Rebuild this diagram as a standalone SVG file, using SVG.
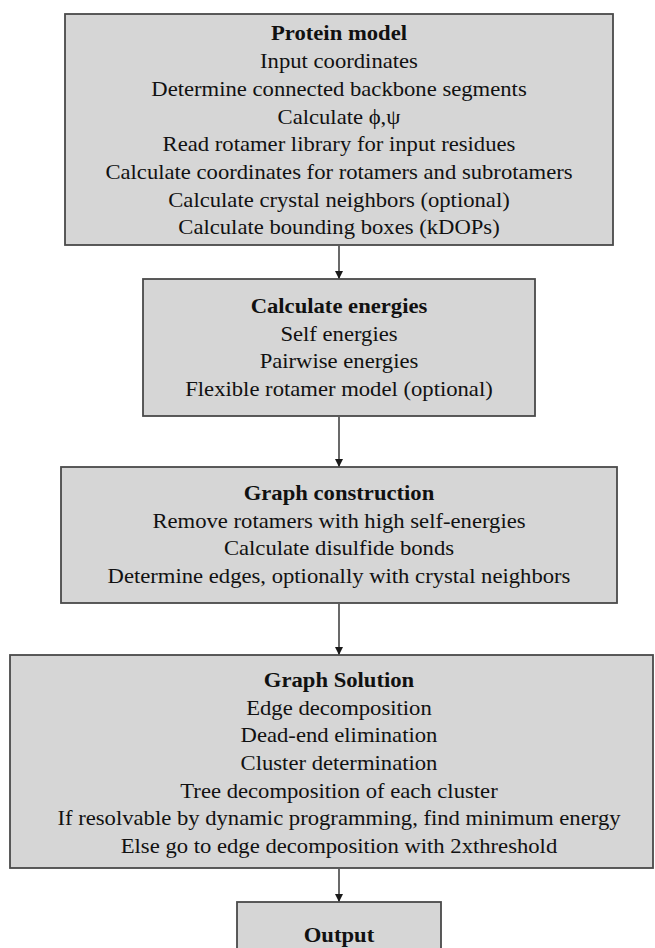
<svg xmlns="http://www.w3.org/2000/svg" width="655" height="948" viewBox="0 0 655 948">
  <defs>
    <style>
      .box { fill: #d6d6d6; stroke: #4a4a4a; stroke-width: 1.8; }
      .t { font-family: "Liberation Serif", "Times New Roman", serif; font-size: 20.6px; fill: #111111; text-anchor: middle; }
      .b { font-weight: bold; }
      .conn { stroke: #2a2a2a; stroke-width: 1.4; fill: none; }
    </style>
    <marker id="arr" viewBox="0 0 10 10" refX="10" refY="5" markerWidth="8" markerHeight="9" markerUnits="userSpaceOnUse" orient="auto">
      <path d="M0,0 L10,5 L0,10 Z" fill="#1a1a1a"/>
    </marker>
  </defs>
  <rect width="655" height="948" fill="#ffffff"/>

  <g id="connectors">
    <line class="conn" x1="339" y1="246" x2="339" y2="279" marker-end="url(#arr)"/>
    <line class="conn" x1="339" y1="417" x2="339" y2="467" marker-end="url(#arr)"/>
    <line class="conn" x1="339" y1="604" x2="339" y2="655" marker-end="url(#arr)"/>
    <line class="conn" x1="339" y1="869" x2="339" y2="902" marker-end="url(#arr)"/>
  </g>

  <g id="protein-model">
    <rect class="box" x="65" y="14" width="548" height="231"/>
    <g transform="translate(339,0) scale(1.1,1) translate(-339,0)">
      <text class="t b" x="339" y="40.5">Protein model</text>
      <text class="t" x="339" y="68.2">Input coordinates</text>
      <text class="t" x="339" y="95.9">Determine connected backbone segments</text>
      <text class="t" x="339" y="123.6">Calculate ϕ,ψ</text>
      <text class="t" x="339" y="151.3">Read rotamer library for input residues</text>
      <text class="t" x="339" y="179">Calculate coordinates for rotamers and subrotamers</text>
      <text class="t" x="339" y="206.7">Calculate crystal neighbors (optional)</text>
      <text class="t" x="339" y="234.4">Calculate bounding boxes (kDOPs)</text>
    </g>
  </g>

  <g id="calculate-energies">
    <rect class="box" x="143" y="279" width="392" height="137"/>
    <g transform="translate(339,0) scale(1.1,1) translate(-339,0)">
      <text class="t b" x="339" y="313">Calculate energies</text>
      <text class="t" x="339" y="340.7">Self energies</text>
      <text class="t" x="339" y="368.4">Pairwise energies</text>
      <text class="t" x="339" y="396.1">Flexible rotamer model (optional)</text>
    </g>
  </g>

  <g id="graph-construction">
    <rect class="box" x="61" y="467" width="556" height="136"/>
    <g transform="translate(339,0) scale(1.1,1) translate(-339,0)">
      <text class="t b" x="339" y="500">Graph construction</text>
      <text class="t" x="339" y="527.7">Remove rotamers with high self-energies</text>
      <text class="t" x="339" y="555.4">Calculate disulfide bonds</text>
      <text class="t" x="339" y="583.1">Determine edges, optionally with crystal neighbors</text>
    </g>
  </g>

  <g id="graph-solution">
    <rect class="box" x="10" y="655" width="643" height="213"/>
    <g transform="translate(339,0) scale(1.1,1) translate(-339,0)">
      <text class="t b" x="339" y="687">Graph Solution</text>
      <text class="t" x="339" y="714.7">Edge decomposition</text>
      <text class="t" x="339" y="742.4">Dead-end elimination</text>
      <text class="t" x="339" y="770.1">Cluster determination</text>
      <text class="t" x="339" y="797.8">Tree decomposition of each cluster</text>
      <text class="t" x="339" y="825.5">If resolvable by dynamic programming, find minimum energy</text>
      <text class="t" x="339" y="853.2">Else go to edge decomposition with 2xthreshold</text>
    </g>
  </g>

  <g id="output">
    <rect class="box" x="237" y="902" width="204" height="60"/>
    <g transform="translate(339,0) scale(1.1,1) translate(-339,0)">
      <text class="t b" x="339" y="942">Output</text>
    </g>
  </g>
</svg>
